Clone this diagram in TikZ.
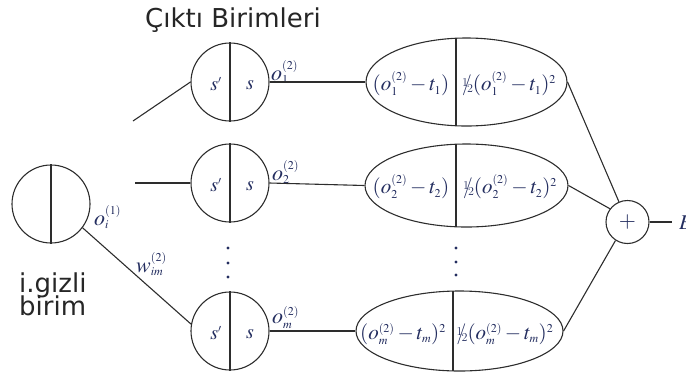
\documentclass[tikz,border=0pt]{standalone}
\usepackage{mathptmx}
\usepackage[no-math]{fontspec}
\newfontfamily\dv{DejaVu Sans}
\usetikzlibrary{shapes.geometric}
\definecolor{mc}{RGB}{35,45,95}
\definecolor{lc}{RGB}{45,45,45}
\DeclareMathSizes{22}{22}{12}{9}
\DeclareMathSizes{21}{21}{12}{9}
\DeclareMathSizes{20}{20}{11}{8}
\newcommand{\halfsl}{\mbox{\raisebox{.45ex}{\fontsize{12}{12}\selectfont 1}\kern-.28em/\kern-.22em\raisebox{-.15ex}{\fontsize{12}{12}\selectfont 2}}}
\begin{document}
\begin{tikzpicture}[x=1pt,y=-1pt]
\tikzset{
 unit/.style={circle, draw=lc, line width=1.1pt, minimum size=78pt, inner sep=0pt},
 errell/.style={ellipse, draw=lc, line width=1.1pt, inner sep=0pt},
 mlab/.style={text=mc, font=\fontsize{22}{24}\selectfont, inner sep=0pt},
 elab/.style={text=mc, font=\fontsize{21}{24}\selectfont, inner sep=0pt},
 slab/.style={text=mc, font=\fontsize{20}{22}\selectfont, inner sep=0pt},
 conn/.style={draw=lc, line width=1.1pt},
 ttl/.style={font=\dv\fontsize{26}{23}\selectfont, text=black!85, inner sep=0pt},
 dotm/.style={circle, fill=mc, inner sep=0pt, minimum size=3.2pt},
}
\useasboundingbox (0,0) rectangle (686,376);
% title
\node[ttl, anchor=base] (title) at (233,27) {Çıktı Birimleri};
% hidden unit
\node[unit] (h) at (51,204) {};
\draw[conn] (h.north) -- (h.south);
\node[ttl, anchor=base west] (hl1) at (19,292) {i.gizli};
\node[ttl, anchor=base west] (hl2) at (19,315) {birim};
\node[mlab, anchor=base west] (oi) at (94,225) {$o_i^{(1)}$};
\node[mlab, anchor=base west] (wim) at (136,272) {$w_{im}^{(2)}$};
% output units
\node[unit] (c1) at (230,82) {};
\node[unit] (c2) at (230,183) {};
\node[unit] (cm) at (230,331) {};
\foreach \c in {c1,c2,cm}{\draw[conn] (\c.north) -- (\c.south);}
\node[slab] (sp1) at (216,84) {$s'$};
\node[slab] (s1) at (250,85) {$s$};
\node[slab] (sp2) at (216,185) {$s'$};
\node[slab] (s2) at (250,186) {$s$};
\node[slab] (spm) at (216,333) {$s'$};
\node[slab] (sm) at (250,334) {$s$};
\node[mlab, anchor=base west] (o1) at (271,80) {$o_1^{(2)}$};
\node[mlab, anchor=base west] (o2) at (272,180) {$o_2^{(2)}$};
\node[mlab, anchor=base west] (om) at (272,323) {$o_m^{(2)}$};
% dots
\node[dotm] (d1) at (228,248) {};
\node[dotm] (d2) at (228,263) {};
\node[dotm] (d3) at (228,277) {};
\node[dotm] (d4) at (456,248) {};
\node[dotm] (d5) at (456,262) {};
\node[dotm] (d6) at (456,275) {};
% ellipses
\node[errell, minimum width=201pt, minimum height=88pt] (e1) at (466.5,82) {};
\node[errell, minimum width=203pt, minimum height=83pt] (e2) at (466.5,185.5) {};
\node[errell, minimum width=207pt, minimum height=80pt] (em) at (459.5,331) {};
\draw[conn] (456,38.2) -- (456,125.8);
\draw[conn] (456,144.2) -- (456,226.8);
\draw[conn] (453,291.1) -- (453,370.9);
\node[elab] (l1) at (411,84) {$(o_1^{(2)}-t_1)$};
\node[elab] (r1) at (509,84) {\halfsl$(o_1^{(2)}-t_1)^2$};
\node[elab] (l2) at (411,187) {$(o_2^{(2)}-t_2)$};
\node[elab] (r2) at (510,187) {\halfsl$(o_2^{(2)}-t_2)^2$};
\node[elab] (lm) at (403,334) {$(o_m^{(2)}-t_m)^2$};
\node[elab] (rm) at (505,334) {\halfsl$(o_m^{(2)}-t_m)^2$};
% sum
\node[circle, draw=lc, line width=1.1pt, minimum size=43pt, inner sep=0pt, text=mc, font=\fontsize{22}{22}\selectfont] (p) at (627.5,222) {$+$};
\coordinate (pe) at (672,222);
\node[elab, anchor=west] (E) at (679,223) {$E$};
% connectors
\coordinate (a1) at (133,121);
\coordinate (a2) at (135,183);
\draw[conn] (a1) -- (c1.west);
\draw[conn] (a2) -- (c2.west);
\draw[conn] (h.-37) -- (cm.170);
\draw[conn] (c1.east) -- (e1.west);
\draw[conn] (c2.east) -- (e2.west);
\draw[conn] (cm.east) -- (em.west);
\draw[conn] (e1.east) -- (p.113);
\draw[conn] (e2.east) -- (p.143);
\draw[conn] (em.east) -- (p.237);
\draw[conn] (p.east) -- (pe);
\end{tikzpicture}
\end{document}
